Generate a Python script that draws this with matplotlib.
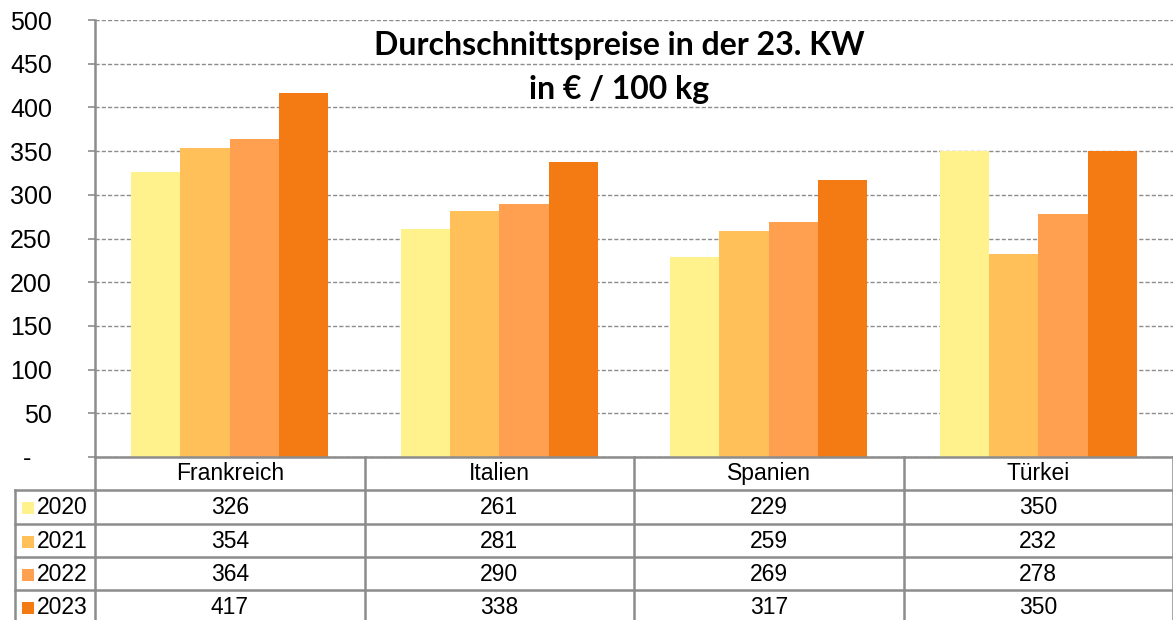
import matplotlib.pyplot as plt
from matplotlib.patches import Rectangle
from matplotlib.transforms import blended_transform_factory

laender = ["Frankreich", "Italien", "Spanien", "Türkei"]
jahre = ["2020", "2021", "2022", "2023"]
preise_2020 = [326, 261, 229, 350]
preise_2021 = [354, 281, 259, 232]
preise_2022 = [364, 290, 269, 278]
preise_2023 = [417, 338, 317, 350]
farben = ["#FFF28C", "#FFC05A", "#FFA050", "#F47A14"]
y_ticks = [0, 50, 100, 150, 200, 250, 300, 350, 400, 450, 500]
titel = "Durchschnittspreise in der 23. KW"
untertitel = "in € / 100 kg"

reihen = [preise_2020, preise_2021, preise_2022, preise_2023]
grau = "#8c8c8c"
schrift = "Liberation Sans"

W, H = 1173, 620
fig = plt.figure(figsize=(W / 100, H / 100), dpi=100)
ax = fig.add_axes([95 / W, 163 / H, 1 - 95 / W, 437 / H])

breite = 0.183
for j, werte in enumerate(reihen):
    pos = [i + (j - 1.5) * breite for i in range(len(laender))]
    ax.bar(pos, werte, breite, color=farben[j], zorder=2, linewidth=0)

ax.set_xlim(-0.5, len(laender) - 0.5)
ax.set_ylim(0, 500)
ax.set_xticks([])
ax.set_yticks(y_ticks)
ax.set_yticklabels(["-   "] + [str(v) for v in y_ticks[1:]], fontsize=18, family=schrift)
ax.tick_params(axis="y", length=5, width=1.2, color=grau, pad=26)
ax.grid(axis="y", color=grau, linestyle=(0, (3, 1.5)), linewidth=1, zorder=1)
for s in ["top", "right"]:
    ax.spines[s].set_visible(False)
ax.spines["left"].set_color(grau)
ax.spines["left"].set_linewidth(1.8)
ax.spines["bottom"].set_color(grau)
ax.spines["bottom"].set_linewidth(1.8)

fig.text(619 / W, 1 - 46 / H, titel, ha="center", va="center",
         fontsize=23, fontweight="bold", family="Lato")
fig.text(619 / W, 1 - 89 / H, untertitel, ha="center", va="center",
         fontsize=23, fontweight="bold", family="Lato")

# Tabelle unter dem Diagramm (Pixel-Overlay)
tab = fig.add_axes([0, 0, 1, 1])
tab.set_xlim(0, W)
tab.set_ylim(H, 0)
tab.axis("off")
mix = blended_transform_factory(ax.transData, tab.transData)

zeilen = [457, 490, 524, 557, 590, 623]
links = 15
for g in range(len(laender) + 1):
    tab.plot([g - 0.5, g - 0.5], [zeilen[0], H], color=grau, lw=1.8,
             transform=mix, clip_on=False)
tab.plot([links, links], [zeilen[1], H], color=grau, lw=1.8)
for y in zeilen[1:-1]:
    tab.plot([links, W], [y, y], color=grau, lw=1.8)

kopf_y = (zeilen[0] + zeilen[1]) / 2
for i, land in enumerate(laender):
    tab.text(i, kopf_y, land, transform=mix, ha="center", va="center",
             fontsize=16.5, family=schrift)

for j, werte in enumerate(reihen):
    ym = (zeilen[j + 1] + zeilen[j + 2]) / 2 + 1
    tab.add_patch(Rectangle((22, ym - 6), 12, 12, color=farben[j], lw=0))
    tab.text(37, ym, jahre[j], ha="left", va="center", fontsize=16.5, family=schrift)
    for i, v in enumerate(werte):
        tab.text(i, ym, str(v), transform=mix, ha="center", va="center",
                 fontsize=16.5, family=schrift)

fig.savefig("out.png", dpi=100)
